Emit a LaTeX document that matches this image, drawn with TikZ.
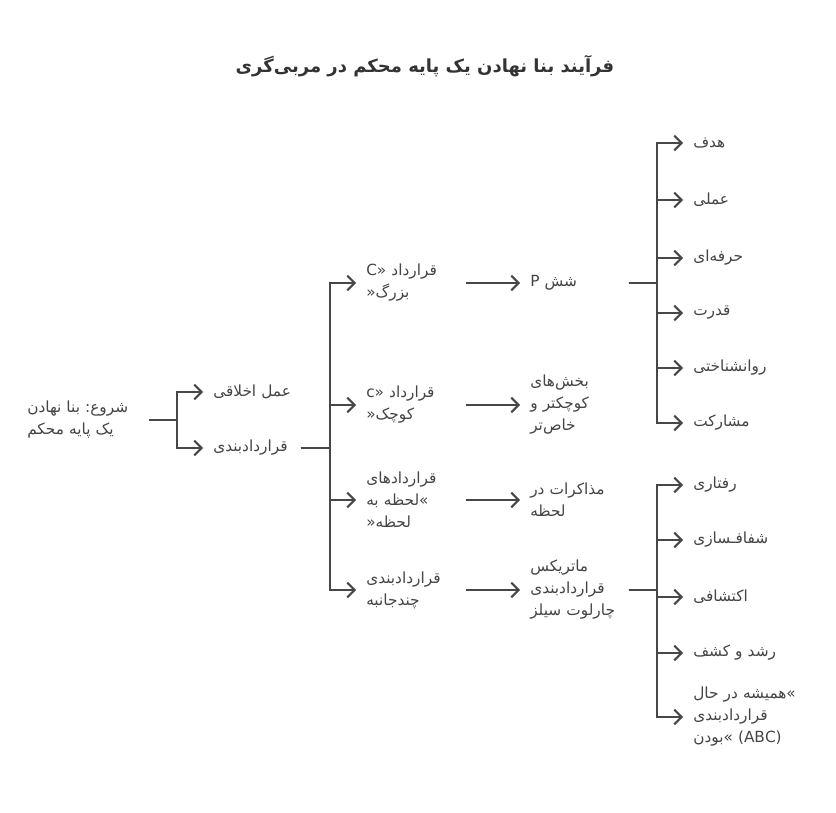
\documentclass[tikz,border=0pt]{standalone}
\usepackage{fontspec}
\usepackage{xcolor}
\usepackage{tikz}
\usetikzlibrary{arrows.meta}
\newfontfamily\farsi[Script=Arabic]{DejaVu Sans}
\TeXXeTstate=1
\definecolor{inkgray}{HTML}{474747}
\definecolor{textgray}{HTML}{444444}
\definecolor{titlegray}{HTML}{333333}

\begin{document}
\begin{tikzpicture}[
x=0.75pt, y=-0.75pt,
item label/.style = {anchor=west, inner xsep=7.5pt, inner ysep=0pt, text width=#1, align=left, text=textgray, font=\farsi\fontsize{11.5}{16.5}\selectfont},
item label/.default = 66pt,
title label/.style = {text=titlegray, font=\farsi\bfseries\fontsize{13.5}{16}\selectfont},
link/.style = {draw=inkgray, line width=1.5pt, line join=miter, -{Straight Barb[length=5.5pt,width=11pt]}}
]

\useasboundingbox (0,0) rectangle (836,813);

\node (title) at (425,66) [title label] {\beginR فرآیند~بنا~نهادن~یک~پایه~محکم~در~مربی‌گری\endR};

\node (root) at (17,420) [item label=83.25pt] {\beginR شروع:~بنا~نهادن\endR\\\beginR یک~پایه~محکم\endR};

\node (ethics) at (203,392) [item label=57.75pt] {\beginR عمل~اخلاقی\endR};
\node (contract) at (203,448) [item label=57.75pt] {قراردادبندی};

\node (bigC) at (356,283) [item label=66.75pt] {C»~\beginR قرارداد\endR\\\mbox{«}بزرگ};
\node (smallC) at (356,405) [item label=66.75pt] {c»~\beginR قرارداد\endR\\\mbox{«}کوچک};
\node (moment) at (356,500) [item label=66.75pt] {قراردادهای\\\beginR لحظه~به\endR\mbox{»}\\\mbox{«}لحظه};
\node (multi) at (356,590) [item label=66.75pt] {قراردادبندی\\چندجانبه};

\node (sixP) at (520,283) [item label] {P~شش};
\node (parts) at (520,405) [item label] {بخش‌های\\\beginR کوچکتر~و\endR\\خاص‌تر};
\node (talks) at (520,500) [item label] {\beginR مذاکرات~در\endR\\لحظه};
\node (matrix) at (520,590) [item label] {ماتریکس\\قراردادبندی\\\beginR چارلوت~سیلز\endR};

\node (goal) at (683,143) [item label=82.5pt] {هدف};
\node (practical) at (683,200) [item label=82.5pt] {عملی};
\node (craft) at (683,258) [item label=82.5pt] {حرفه‌ای};
\node (power) at (683,313) [item label=82.5pt] {قدرت};
\node (psych) at (683,368) [item label=82.5pt] {روانشناختی};
\node (share) at (683,423) [item label=82.5pt] {مشارکت};

\node (behave) at (683,485) [item label=82.5pt] {رفتاری};
\node (clarify) at (683,540) [item label=82.5pt] {شفافـسازی};
\node (explore) at (683,597) [item label=82.5pt] {اکتشافی};
\node (grow) at (683,653) [item label=82.5pt] {\beginR رشد~و~کشف\endR};
\node (abc) at (683,717) [item label=82.5pt] {\beginR همیشه~در~حال\endR\mbox{»}\\قراردادبندی\\بودن\mbox{»}~(ABC)};

\coordinate (bus1) at (177,420);
\coordinate (bus2) at (330,448);
\coordinate (bus3) at (657,283);
\coordinate (bus4) at (657,590);

\draw[link] (root.east) -- (bus1) |- (ethics.west);
\draw[link] (root.east) -- (bus1) |- (contract.west);

\draw[link] (contract.east) -- (bus2) |- (bigC.west);
\draw[link] (contract.east) -- (bus2) |- (smallC.west);
\draw[link] (contract.east) -- (bus2) |- (moment.west);
\draw[link] (contract.east) -- (bus2) |- (multi.west);

\draw[link] (bigC.east) -- (sixP.west);
\draw[link] (smallC.east) -- (parts.west);
\draw[link] (moment.east) -- (talks.west);
\draw[link] (multi.east) -- (matrix.west);

\draw[link] (sixP.east) -- (bus3) |- (goal.west);
\draw[link] (sixP.east) -- (bus3) |- (practical.west);
\draw[link] (sixP.east) -- (bus3) |- (craft.west);
\draw[link] (sixP.east) -- (bus3) |- (power.west);
\draw[link] (sixP.east) -- (bus3) |- (psych.west);
\draw[link] (sixP.east) -- (bus3) |- (share.west);

\draw[link] (matrix.east) -- (bus4) |- (behave.west);
\draw[link] (matrix.east) -- (bus4) |- (clarify.west);
\draw[link] (matrix.east) -- (bus4) |- (explore.west);
\draw[link] (matrix.east) -- (bus4) |- (grow.west);
\draw[link] (matrix.east) -- (bus4) |- (abc.west);
\end{tikzpicture}
\end{document}
